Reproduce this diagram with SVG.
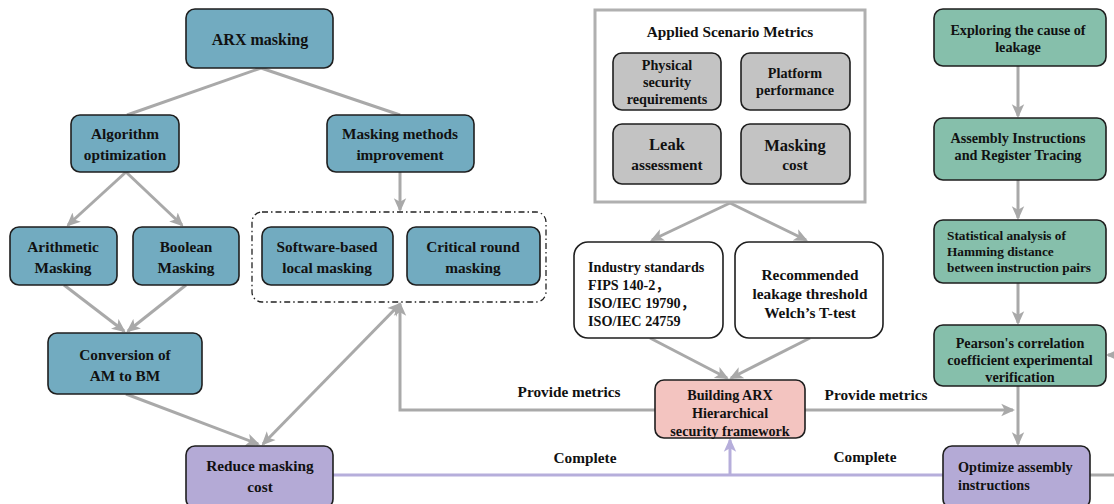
<svg xmlns="http://www.w3.org/2000/svg" width="1114" height="504" viewBox="0 0 1114 504">
<defs>
<style>
text{font-family:"Liberation Serif","Times New Roman","Noto Sans CJK SC",serif;font-weight:bold;fill:#111;text-anchor:middle}
.blue{fill:#72abc0;stroke:#1e1e1e;stroke-width:1.6}
.green{fill:#86bfab;stroke:#1e1e1e;stroke-width:1.6}
.gray{fill:#c3c3c3;stroke:#1e1e1e;stroke-width:1.6}
.purple{fill:#b4aad6;stroke:#1e1e1e;stroke-width:1.6}
.pink{fill:#f3c4c0;stroke:#1e1e1e;stroke-width:1.6}
.white{fill:#fff;stroke:#1e1e1e;stroke-width:1.6}
.c{fill:none;stroke:#a9a9a9;stroke-width:3}
.p{fill:none;stroke:#b6aedb;stroke-width:3}
.t15{font-size:15.3px}
.t14{font-size:14.2px}
.t13{font-size:13.3px}
.l{text-anchor:start}
</style>
<marker id="ah" viewBox="0 0 10 10" refX="8.5" refY="5" markerWidth="4.6" markerHeight="4.6" orient="auto-start-reverse" markerUnits="strokeWidth">
<path d="M0,0.5 L10,5 L0,9.5 L2.5,5 z" fill="#a9a9a9"/>
</marker>
<marker id="ahp" viewBox="0 0 10 10" refX="8.5" refY="5" markerWidth="4.6" markerHeight="4.6" orient="auto" markerUnits="strokeWidth">
<path d="M0,0.5 L10,5 L0,9.5 L2.5,5 z" fill="#b6aedb"/>
</marker>
</defs>
<rect width="1114" height="504" fill="#fff"/>

<g id="connectors">
<path class="c" d="M261,68 L127,115"/>
<path class="c" d="M261,68 L400,115"/>
<path class="c" d="M126,172 L68,225" marker-end="url(#ah)"/>
<path class="c" d="M126,172 L182,225" marker-end="url(#ah)"/>
<path class="c" d="M400,172 L400,210" marker-end="url(#ah)"/>
<path class="c" d="M64,285 L124,331" marker-end="url(#ah)"/>
<path class="c" d="M186,285 L128,331" marker-end="url(#ah)"/>
<path class="c" d="M126,394 L258,444" marker-end="url(#ah)"/>
<path class="c" d="M263,444 L400,304" marker-start="url(#ah)" marker-end="url(#ah)"/>
<path class="c" d="M655,410 L400,410 L400,304" marker-end="url(#ah)"/>
<path class="c" d="M805,410 L1013,410" marker-end="url(#ah)"/>
<path class="c" d="M730,203 L652,240" marker-end="url(#ah)"/>
<path class="c" d="M730,203 L806,240" marker-end="url(#ah)"/>
<path class="c" d="M650,338 L727,378" marker-end="url(#ah)"/>
<path class="c" d="M810,338 L731,378" marker-end="url(#ah)"/>
<path class="c" d="M1018,66 L1018,116" marker-end="url(#ah)"/>
<path class="c" d="M1018,180 L1018,218" marker-end="url(#ah)"/>
<path class="c" d="M1018,283 L1018,323" marker-end="url(#ah)"/>
<path class="c" d="M1018,386 L1018,444" marker-end="url(#ah)"/>
<path class="c" d="M1118,355 L1108,355" marker-end="url(#ah)"/>
<path class="c" d="M1090,475 L1114,475"/>
<path class="p" d="M333,475 L943,475"/>
<path class="p" d="M730,475 L730,440" marker-end="url(#ahp)"/>
<text class="t15" x="569" y="397">Provide metrics</text>
<text class="t15" x="876" y="400">Provide metrics</text>
<text class="t15" x="585" y="463">Complete</text>
<text class="t15" x="865" y="462">Complete</text>
</g>

<g id="arx-masking"><rect class="blue" x="186" y="9" width="147" height="59" rx="9"/><text x="260" y="45" font-size="16">ARX masking</text></g>
<g id="algorithm-optimization"><rect class="blue" x="71" y="115" width="108" height="57" rx="9"/><text class="t15" x="125" y="139">Algorithm</text><text class="t15" x="125" y="160">optimization</text></g>
<g id="masking-methods"><rect class="blue" x="327" y="115" width="147" height="57" rx="9"/><text class="t15" x="400" y="139">Masking methods</text><text class="t15" x="400" y="160">improvement</text></g>
<g id="arithmetic"><rect class="blue" x="10" y="227" width="107" height="58" rx="9"/><text class="t15" x="63" y="252">Arithmetic</text><text class="t15" x="63" y="273">Masking</text></g>
<g id="boolean"><rect class="blue" x="133" y="227" width="106" height="58" rx="9"/><text class="t15" x="186" y="252">Boolean</text><text class="t15" x="186" y="273">Masking</text></g>
<g id="masking-group"><rect x="252" y="212" width="294" height="90" rx="10" fill="none" stroke="#222" stroke-width="1.3" stroke-dasharray="6,3,1.5,3"/></g>
<g id="software-based"><rect class="blue" x="262" y="227" width="131" height="58" rx="9"/><text class="t15" x="327" y="252">Software-based</text><text class="t15" x="327" y="273">local masking</text></g>
<g id="critical-round"><rect class="blue" x="407" y="227" width="133" height="58" rx="9"/><text class="t15" x="473" y="252">Critical round</text><text class="t15" x="473" y="273">masking</text></g>
<g id="conversion"><rect class="blue" x="48" y="333" width="154" height="61" rx="9"/><text class="t15" x="125" y="360">Conversion of</text><text class="t15" x="125" y="381">AM to BM</text></g>
<g id="reduce-cost"><rect class="purple" x="186" y="446" width="147" height="62" rx="9"/><text class="t15" x="260" y="471">Reduce masking</text><text class="t15" x="260" y="492">cost</text></g>

<g id="applied-scenario"><rect x="595" y="10" width="270" height="192" fill="#fff" stroke="#b0b0b0" stroke-width="3"/><text class="t15" x="730" y="37">Applied Scenario Metrics</text></g>
<g id="physical-security"><rect class="gray" x="613" y="53" width="108" height="57" rx="9"/><text class="t14" x="667" y="70">Physical</text><text class="t14" x="667" y="87">security</text><text class="t14" x="667" y="104">requirements</text></g>
<g id="platform-performance"><rect class="gray" x="741" y="53" width="109" height="57" rx="9"/><text class="t14" x="795" y="78">Platform</text><text class="t14" x="795" y="95">performance</text></g>
<g id="leak-assessment"><rect class="gray" x="613" y="124" width="108" height="60" rx="9"/><text x="667" y="150" font-size="16.5">Leak</text><text class="t15" x="667" y="170">assessment</text></g>
<g id="masking-cost"><rect class="gray" x="741" y="124" width="109" height="60" rx="9"/><text x="795" y="151" font-size="16.5">Masking</text><text class="t15" x="795" y="170">cost</text></g>
<g id="industry-standards"><rect class="white" x="574" y="242" width="149" height="96" rx="14"/><text class="t14 l" x="588" y="272">Industry standards</text><text class="t14 l" x="588" y="290">FIPS 140-2，</text><text class="t14 l" x="588" y="308">ISO/IEC 19790，</text><text class="t14 l" x="588" y="326">ISO/IEC 24759</text></g>
<g id="recommended"><rect class="white" x="735" y="242" width="148" height="96" rx="14"/><text class="t15" x="810" y="280">Recommended</text><text class="t15" x="810" y="299">leakage threshold</text><text class="t15" x="810" y="318">Welch’s T-test</text></g>
<g id="building-arx"><rect class="pink" x="655" y="380" width="150" height="58" rx="9"/><text class="t14" x="730" y="400">Building ARX</text><text class="t14" x="730" y="418">Hierarchical</text><text class="t14" x="730" y="436">security framework</text></g>

<g id="exploring"><rect class="green" x="934" y="9" width="172" height="57" rx="9"/><text class="t14" x="1018" y="35">Exploring the cause of</text><text class="t14" x="1018" y="52">leakage</text></g>
<g id="assembly-tracing"><rect class="green" x="934" y="118" width="172" height="62" rx="9"/><text class="t14" x="1018" y="143">Assembly Instructions</text><text class="t14" x="1018" y="160">and Register Tracing</text></g>
<g id="statistical"><rect class="green" x="934" y="220" width="172" height="63" rx="9"/><text class="t13 l" x="947" y="240">Statistical analysis of</text><text class="t13 l" x="947" y="256">Hamming distance</text><text class="t13 l" x="947" y="272">between instruction  pairs</text></g>
<g id="pearson"><rect class="green" x="934" y="325" width="172" height="61" rx="9"/><text class="t14" x="1020" y="348">Pearson's correlation</text><text class="t14" x="1020" y="365">coefficient experimental</text><text class="t14" x="1020" y="382">verification</text></g>
<g id="optimize"><rect class="purple" x="943" y="446" width="147" height="62" rx="9"/><text class="t14 l" x="958" y="472">Optimize  assembly</text><text class="t14 l" x="958" y="490">instructions</text></g>
</svg>
